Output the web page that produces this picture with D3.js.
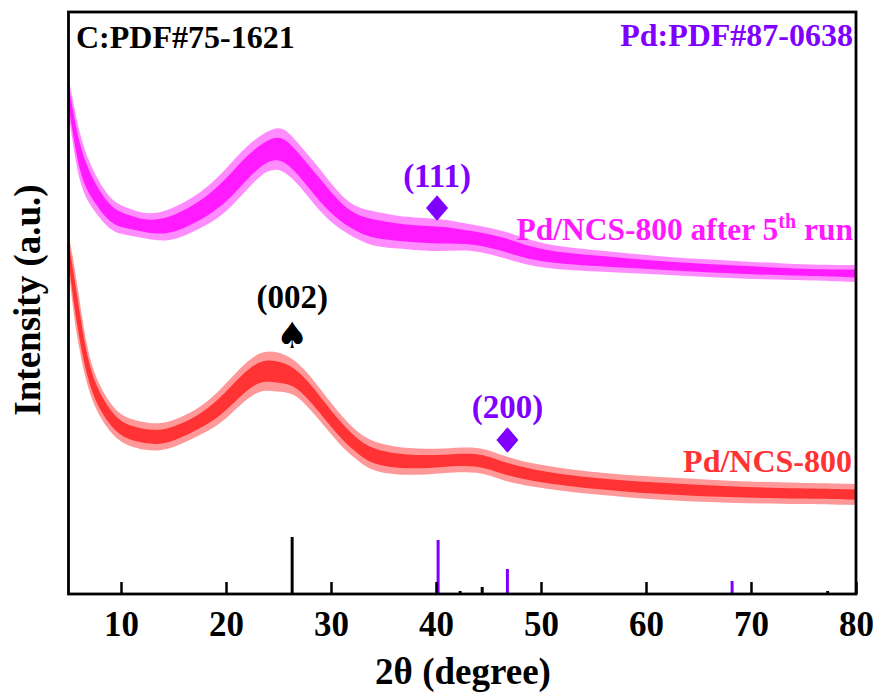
<!DOCTYPE html>
<html>
<head>
<meta charset="utf-8">
<script src="https://cdn.jsdelivr.net/npm/d3@7"></script>
<style>
  body { margin: 0; background: #fff; }
  text { font-family: "Liberation Serif", "Times New Roman", serif; font-weight: bold; }
</style>
</head>
<body>
<svg id="chart" width="879" height="693"></svg>
<script>
// 2theta positions and upper / lower edge of the noisy trace (intensity, a.u.)
var afterRunTheta = [5.0, 5.2, 6.1, 7.3, 9.0, 10.6, 12.5, 14.4, 16.3, 18.2, 20.1, 22.0, 23.9, 25.4, 27.0, 28.9, 30.9, 32.5, 34.0, 37.2, 40.4, 43.5, 46.8, 49.9, 56.3, 62.6, 69.0, 75.4, 80.0];
var afterRunUpper = [514, 504, 454, 421, 391, 384, 377, 381, 391, 404, 424, 447, 461, 467, 447, 424, 396, 384, 381, 374, 374, 367, 361, 347, 341, 334, 331, 327, 327];
var afterRunLower = [484, 467, 407, 387, 364, 361, 357, 354, 361, 371, 384, 407, 427, 427, 411, 384, 366, 357, 349, 347, 344, 347, 337, 327, 324, 321, 317, 316, 314];

var freshTheta = [5.0, 5.15, 5.8, 6.8, 8.0, 9.7, 11.5, 13.7, 15.6, 17.5, 19.4, 21.3, 23.2, 24.8, 26.4, 28.0, 29.6, 31.2, 32.3, 33.8, 37.2, 40.7, 44.1, 46.1, 49.1, 54.3, 61.0, 67.9, 74.7, 80.0];
var freshUpper = [356, 351, 311, 237, 204, 177, 171, 167, 174, 184, 201, 224, 241, 241, 234, 217, 194, 174, 162, 150, 143, 143, 146, 137, 128, 120, 115, 111, 109, 108];
var freshLower = [334, 311, 257, 207, 177, 154, 147, 144, 151, 161, 171, 191, 207, 204, 204, 187, 167, 147, 138, 124, 120, 123, 125, 116, 109, 102, 96, 93, 92, 91];

// reference patterns (stick positions and relative heights)
var carbonPdf = [[26.3, 57], [42.3, 3], [44.4, 7], [77.3, 3]];
var palladiumPdf = [[40.2, 54], [46.8, 25], [68.2, 13]];

var xTicks = [10, 20, 30, 40, 50, 60, 70, 80];

var colMagenta = "#ff1aff", colRed = "#ff3333", colPurple = "#7f00ff";

var svg = d3.select("#chart");
var plotLeft = 68.5, plotRight = 856, plotTop = 12, plotBottom = 594;

var x = d3.scaleLinear().domain([5, 80]).range([plotLeft, plotRight]);
var y = d3.scaleLinear().domain([0, 582]).range([plotBottom, plotTop]);

function band(theta, upper, lower) {
  return theta.map(function (t, i) { return { t: t, hi: upper[i], lo: lower[i] }; });
}

// draw a noisy trace as a two-tone band between its edges
function drawTrace(rows, color) {
  var outer = d3.area().curve(d3.curveBasis)
    .x(function (d) { return x(d.t); })
    .y0(function (d) { return y(d.lo - 2); })
    .y1(function (d) { return y(d.hi + 2); });
  var inner = d3.area().curve(d3.curveBasis)
    .x(function (d) { return x(d.t); })
    .y0(function (d) { return y(d.lo + (d.hi - d.lo) * 0.2); })
    .y1(function (d) { return y(d.hi - (d.hi - d.lo) * 0.2); });
  svg.append("path").datum(rows).attr("d", outer)
    .attr("fill", color).attr("fill-opacity", 0.5);
  svg.append("path").datum(rows).attr("d", inner)
    .attr("fill", color);
}

drawTrace(band(afterRunTheta, afterRunUpper, afterRunLower), colMagenta);
drawTrace(band(freshTheta, freshUpper, freshLower), colRed);

// reference sticks
svg.selectAll(".stick-c").data(carbonPdf).enter().append("line")
  .attr("x1", function (d) { return x(d[0]); }).attr("x2", function (d) { return x(d[0]); })
  .attr("y1", y(0)).attr("y2", function (d) { return y(d[1]); })
  .attr("stroke", "#000").attr("stroke-width", 3);
svg.selectAll(".stick-pd").data(palladiumPdf).enter().append("line")
  .attr("x1", function (d) { return x(d[0]); }).attr("x2", function (d) { return x(d[0]); })
  .attr("y1", y(0)).attr("y2", function (d) { return y(d[1]); })
  .attr("stroke", colPurple).attr("stroke-width", 3);

// x axis with inward ticks
var xAxis = d3.axisBottom(x).tickValues(xTicks).tickSize(-12).tickSizeOuter(0);
var gx = svg.append("g").attr("transform", "translate(0," + plotBottom + ")").call(xAxis);
gx.select(".domain").remove();
gx.selectAll(".tick line").attr("stroke", "#000").attr("stroke-width", 2.5);
gx.selectAll(".tick text").attr("y", 42).attr("dy", 0)
  .attr("font-size", 35).attr("fill", "#000")
  .style("font-family", '"Liberation Serif", serif').style("font-weight", "bold");

// frame
svg.append("rect").attr("x", plotLeft).attr("y", plotTop)
  .attr("width", plotRight - plotLeft).attr("height", plotBottom - plotTop)
  .attr("fill", "none").attr("stroke", "#000").attr("stroke-width", 2.8);

// axis titles
svg.append("text").attr("x", 463).attr("y", 684).attr("text-anchor", "middle")
  .attr("font-size", 37).text("2\u03b8 (degree)");
svg.append("text").attr("transform", "translate(40,300) rotate(-90)")
  .attr("text-anchor", "middle").attr("font-size", 37).text("Intensity (a.u.)");

// corner labels
svg.append("text").attr("x", 76).attr("y", 48).attr("font-size", 32).text("C:PDF#75-1621");
svg.append("text").attr("x", 853).attr("y", 46).attr("text-anchor", "end")
  .attr("font-size", 32).attr("fill", colPurple).text("Pd:PDF#87-0638");

// series labels
var lab1 = svg.append("text").attr("x", 853).attr("y", 240).attr("text-anchor", "end")
  .attr("font-size", 31.5).attr("fill", colMagenta);
lab1.append("tspan").text("Pd/NCS-800 after 5");
lab1.append("tspan").attr("font-size", 20).attr("dy", -12).text("th");
lab1.append("tspan").attr("dy", 12).text(" run");
svg.append("text").attr("x", 852).attr("y", 472).attr("text-anchor", "end")
  .attr("font-size", 32).attr("fill", colRed).text("Pd/NCS-800");

// peak markers
svg.append("text").attr("x", x(26.3)).attr("y", 308).attr("text-anchor", "middle")
  .attr("font-size", 33).text("(002)");
svg.append("text").attr("x", x(26.3)).attr("y", 348).attr("text-anchor", "middle")
  .attr("font-size", 36).style("font-family", '"DejaVu Sans", sans-serif').text("\u2660");

var diamond = d3.symbol().type(d3.symbolSquare).size(300);
[[40.1, 208, "(111)", 187], [46.8, 440, "(200)", 418]].forEach(function (m) {
  svg.append("path").attr("d", diamond())
    .attr("transform", "translate(" + x(m[0]) + "," + m[1] + ") scale(0.9,1.05) rotate(45)")
    .attr("fill", colPurple);
  svg.append("text").attr("x", x(m[0])).attr("y", m[3]).attr("text-anchor", "middle")
    .attr("font-size", 33).attr("fill", colPurple).text(m[2]);
});
</script>
</body>
</html>
